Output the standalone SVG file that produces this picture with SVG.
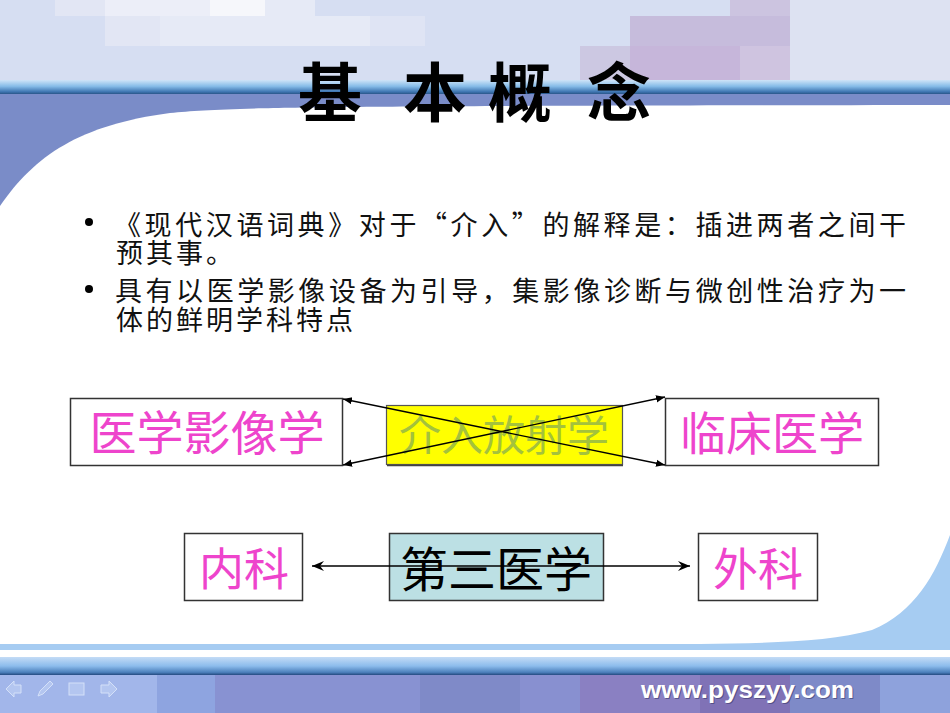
<svg xmlns="http://www.w3.org/2000/svg" width="950" height="713" viewBox="0 0 950 713">
<defs>
<linearGradient id="stripe" x1="0" y1="0" x2="0" y2="1">
<stop offset="0" stop-color="#cfe4f8"/>
<stop offset="0.45" stop-color="#86bce8"/>
<stop offset="0.85" stop-color="#3d74b0"/>
<stop offset="1" stop-color="#2a5688"/>
</linearGradient>
<linearGradient id="foot" x1="0" y1="0" x2="0" y2="1">
<stop offset="0" stop-color="#c4dcf6"/>
<stop offset="0.5" stop-color="#8cbcec"/>
<stop offset="0.85" stop-color="#4c80bc"/>
<stop offset="1" stop-color="#244a80"/>
</linearGradient>
<marker id="tri" viewBox="0 0 10 10" refX="10" refY="5" markerWidth="9" markerHeight="9" markerUnits="userSpaceOnUse" orient="auto-start-reverse">
<path d="M0,1 L10,5 L0,9 Z" fill="#000"/>
</marker>
<marker id="stealth" viewBox="0 0 12 10" refX="12" refY="5" markerWidth="12" markerHeight="10" markerUnits="userSpaceOnUse" orient="auto-start-reverse">
<path d="M0,0 L12,5 L0,10 L4,5 Z" fill="#000"/>
</marker>
</defs>
<style>
.box{fill:#fff;stroke:#333;stroke-width:1.5}
.cn{font-family:"Noto Sans CJK SC","Noto Sans CJK TC",sans-serif}
.mag{fill:#ee44cc;text-anchor:middle}
.body{font-size:27px;fill:#111}
.con{stroke:#000;stroke-width:1.3;fill:none}
.ico{fill:#b4c6f0;stroke:#d4e0f8;stroke-width:1}
</style>
<g id="background">
<rect x="0" y="0" width="950" height="713" fill="#ffffff"/>
<rect x="0" y="0" width="950" height="82" fill="#d6def2"/>
<rect x="55" y="0" width="50" height="16" fill="#e2e6f4"/>
<rect x="105" y="0" width="105" height="16" fill="#eceef8"/>
<rect x="210" y="0" width="55" height="16" fill="#f6f7fb"/>
<rect x="265" y="0" width="50" height="16" fill="#e6eaf6"/>
<rect x="105" y="16" width="55" height="30" fill="#e2e6f4"/>
<rect x="160" y="16" width="210" height="30" fill="#e6eaf6"/>
<rect x="370" y="16" width="55" height="30" fill="#dfe4f4"/>
<rect x="630" y="16" width="160" height="30" fill="#c6bcdc"/>
<rect x="730" y="0" width="60" height="16" fill="#ccc4e0"/>
<rect x="580" y="46" width="50" height="36" fill="#ccc8e2"/>
<rect x="630" y="46" width="110" height="36" fill="#c6b6da"/>
<rect x="740" y="46" width="50" height="36" fill="#cfc4e0"/>
<rect x="790" y="0" width="160" height="82" fill="#dde2f2"/>
<rect x="0" y="80" width="950" height="14" fill="url(#stripe)"/>
<rect x="0" y="94" width="950" height="130" fill="#7a8cc8"/>
<path d="M0,206 C35,155 80,125 170,113 C230,107 300,106 950,105 L950,645 L0,645 Z" fill="#ffffff"/>
<path d="M950,535 C935,575 915,612 872,630 C830,642 770,643 700,644 L0,644 L0,650 L950,650 Z" fill="#a6ccf2"/>
<rect x="0" y="657" width="950" height="18" fill="url(#foot)"/>
<rect x="0" y="675" width="950" height="38" fill="#8896d4"/>
<rect x="0" y="675" width="157" height="38" fill="#a2b6ea"/>
<rect x="157" y="675" width="58" height="38" fill="#8ea4e0"/>
<rect x="215" y="675" width="205" height="38" fill="#8892d2"/>
<rect x="420" y="675" width="100" height="38" fill="#7f8ac8"/>
<rect x="520" y="675" width="60" height="38" fill="#8890d0"/>
<rect x="580" y="675" width="120" height="38" fill="#8a80c2"/>
<rect x="700" y="675" width="90" height="38" fill="#8072b6"/>
<rect x="790" y="675" width="90" height="38" fill="#7e8ac8"/>
<rect x="880" y="675" width="70" height="38" fill="#8ea2dc"/>
<g>
<path class="ico" d="M6,689 L14,681 L14,685 L21,685 L21,693 L14,693 L14,697 Z"/>
<path class="ico" d="M38,696 L40,691 L50,681 L53,684 L43,694 Z"/>
<rect class="ico" x="69" y="683" width="15" height="12"/>
<path class="ico" d="M117,689 L109,681 L109,685 L101,685 L101,693 L109,693 L109,697 Z"/>
</g>
<text x="642" y="699" font-family="Liberation Sans,Arial,sans-serif" font-weight="bold" font-size="24" fill="#3a3a6a" textLength="213" lengthAdjust="spacingAndGlyphs" opacity="0.6">www.pyszyy.com</text>
<text x="641" y="698" font-family="Liberation Sans,Arial,sans-serif" font-weight="bold" font-size="24" fill="#ffffff" textLength="213" lengthAdjust="spacingAndGlyphs">www.pyszyy.com</text>
</g>
<g id="title">
<text class="cn" x="298 364 403 468 488 554 587" y="116" font-size="64" font-weight="bold" fill="#000">基 本 概 念</text>
</g>
<g id="bullets">
<circle cx="89" cy="222" r="4" fill="#000"/>
<circle cx="89" cy="289" r="4" fill="#000"/>
<text class="cn body"><tspan x="114" y="235" textLength="792" lengthAdjust="spacing">《现代汉语词典》对于“介入”的解释是：插进两者之间干</tspan><tspan x="116" y="263" letter-spacing="3">预其事。</tspan></text>
<text class="cn body"><tspan x="115" y="301" textLength="791" lengthAdjust="spacing">具有以医学影像设备为引导，集影像诊断与微创性治疗为一</tspan><tspan x="116" y="330" letter-spacing="3">体的鲜明学科特点</tspan></text>
</g>
<g id="node-yixue-yingxiang">
<rect class="box" x="70.5" y="398.5" width="272" height="67"/>
<text class="cn mag" x="207" y="450" font-size="47">医学影像学</text>
</g>
<g id="node-jieru-fangshe">
<rect x="386.5" y="405.5" width="236" height="59" fill="#ffff00" stroke="#555" stroke-width="1.2"/>
<line x1="387" y1="465.5" x2="623" y2="465.5" stroke="#444" stroke-width="1.5"/>
<text class="cn" x="504" y="451" font-size="42" text-anchor="middle" fill="#a4c23c">介入放射学</text>
</g>
<g id="node-linchuang">
<rect class="box" x="665.5" y="398.5" width="213" height="67"/>
<text class="cn mag" x="772" y="450" font-size="46">临床医学</text>
</g>
<g id="node-neike">
<rect class="box" x="184.5" y="533.5" width="118" height="67"/>
<text class="cn mag" x="244" y="586" font-size="45">内科</text>
</g>
<g id="node-disan">
<rect x="389.5" y="533.5" width="214" height="67" fill="#bce0e4" stroke="#333" stroke-width="1.5"/>
<text class="cn" x="496" y="587" font-size="48" text-anchor="middle" fill="#000">第三医学</text>
</g>
<g id="node-waike">
<rect class="box" x="698.5" y="533.5" width="119" height="67"/>
<text class="cn mag" x="758" y="586" font-size="45">外科</text>
</g>
<g id="connectors">
<line class="con" x1="343" y1="399" x2="665" y2="465" marker-start="url(#tri)" marker-end="url(#tri)"/>
<line class="con" x1="343" y1="465" x2="665" y2="397" marker-start="url(#tri)" marker-end="url(#tri)"/>
<line class="con" x1="312" y1="566" x2="690" y2="566" marker-start="url(#stealth)" marker-end="url(#stealth)"/>
</g>
</svg>
